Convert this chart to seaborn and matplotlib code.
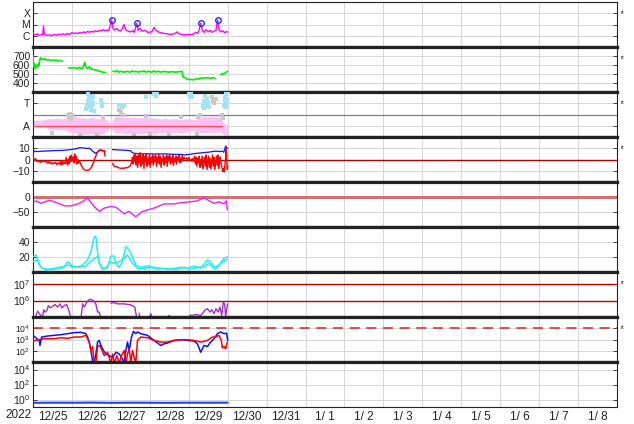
import numpy as np
import pandas as pd
import matplotlib
matplotlib.use("Agg")
import matplotlib.pyplot as plt
from matplotlib.ticker import NullLocator
import seaborn as sns

# ---------------- data (time in days since 12/25 00:00) ----------------
date_labels = ["12/25", "12/26", "12/27", "12/28", "12/29", "12/30", "12/31",
               "1/ 1", "1/ 2", "1/ 3", "1/ 4", "1/ 5", "1/ 6", "1/ 7", "1/ 8"]

# X-ray flux (units of 1e-6 W/m2)
xray_t = [0.00, 0.03, 0.08, 0.12, 0.16, 0.20, 0.25, 0.27, 0.29, 0.35, 0.42, 0.48, 0.55, 0.60,
          0.66, 0.72, 0.78, 0.83, 0.88, 0.93, 1.00, 1.05, 1.10, 1.15, 1.20, 1.25, 1.30, 1.35,
          1.40, 1.45, 1.50, 1.55, 1.60, 1.65, 1.70, 1.75, 1.80, 1.85, 1.90, 1.95, 2.02, 2.06,
          2.10, 2.15, 2.20, 2.25, 2.30, 2.34, 2.38, 2.45, 2.50, 2.55, 2.60, 2.67, 2.70, 2.75,
          2.80, 2.88, 2.95, 3.05, 3.11, 3.16, 3.22, 3.30, 3.38, 3.45, 3.52, 3.58, 3.65, 3.70,
          3.75, 3.82, 3.90, 3.97, 4.05, 4.12, 4.18, 4.22, 4.26, 4.31, 4.35, 4.40, 4.45, 4.50,
          4.55, 4.60, 4.65, 4.70, 4.74, 4.78, 4.82, 4.88, 4.92, 4.96, 5.00]
xray_v = [1.8, 1.3, 1.2, 1.5, 1.1, 1.2, 1.3, 7.0, 1.4, 1.1, 1.2, 1.0, 1.3, 1.1,
          1.4, 1.2, 1.5, 1.2, 1.6, 1.3, 1.9, 1.6, 1.8, 1.5, 2.0, 1.7, 2.2, 1.9,
          2.4, 2.0, 2.5, 2.1, 2.8, 2.3, 3.0, 2.6, 3.5, 2.8, 3.2, 3.0, 25.0, 4.0,
          3.2, 4.5, 3.0, 2.6, 5.0, 10.0, 3.5, 2.5, 2.2, 2.8, 2.0, 13.0, 3.0, 4.5,
          2.5, 3.0, 2.0, 2.2, 5.5, 3.0, 2.2, 1.8, 1.6, 1.5, 1.3, 1.4, 1.6, 2.2,
          1.5, 1.3, 1.2, 1.3, 1.2, 1.4, 2.0, 1.6, 2.6, 13.0, 3.0, 2.0, 3.5, 2.2,
          3.0, 2.0, 2.5, 3.0, 25.0, 3.5, 2.2, 2.8, 1.8, 2.3, 2.1]
flare_t = [2.02, 2.67, 4.31, 4.74]
flare_v = [25.0, 13.0, 13.0, 25.0]

# Solar wind speed (km/s)
speed_t = [0.00, 0.01, 0.03, 0.05, 0.08, 0.10, 0.13, 0.15, 0.17, 0.19, 0.22, 0.26, 0.30, 0.35,
           0.40, 0.45, 0.50, 0.55, 0.60, 0.65, 0.70, 0.75, 0.78, 0.92, 1.00, 1.10, 1.15, 1.20,
           1.25, 1.28, 1.33, 1.36, 1.40, 1.45, 1.50, 1.55, 1.60, 1.65, 1.72, 1.80, 1.87, 1.88,
           2.05, 2.10, 2.15, 2.20, 2.25, 2.30, 2.35, 2.40, 2.45, 2.50, 2.55, 2.60, 2.65, 2.70,
           2.75, 2.80, 2.85, 2.90, 2.95, 3.00, 3.05, 3.10, 3.15, 3.20, 3.25, 3.30, 3.35, 3.40,
           3.45, 3.50, 3.55, 3.60, 3.65, 3.83, 3.85, 3.90, 3.95, 4.00, 4.05, 4.10, 4.15, 4.20,
           4.25, 4.30, 4.35, 4.40, 4.45, 4.50, 4.55, 4.60, 4.65, 4.68, 4.70, 4.82, 4.86, 4.90,
           4.95, 5.00]
speed_v = [700, 580, 620, 560, 600, 570, 610, 590, 640, 680, 670, 660, 670, 655,
           660, 650, 655, 650, 655, 645, 650, 645, np.nan, 570, 565, 570, 560, 575,
           560, 565, 630, 575, 560, 580, 555, 550, 545, 540, 530, 520, 515, np.nan,
           530, 525, 540, 520, 530, 525, 520, 530, 525, 520, 535, 525, 530, 520,
           530, 525, 535, 520, 530, 525, 520, 535, 520, 530, 525, 520, 530, 525,
           525, 520, 525, 525, 520, 530, 470, 460, 445, 440, 440, 435, 440, 450,
           440, 455, 450, 460, 455, 460, 450, 460, 455, 450, np.nan, 490, 505, 500,
           515, 530]

# IMF sector (A = away, T = toward)
band_t = [0.0, 0.1, 0.2, 0.3, 0.4, 0.5, 0.6, 0.7, 0.8, 0.9, 1.0, 1.1, 1.2, 1.3, 1.4, 1.5, 1.6,
          1.7, 1.8, 1.9, 2.0, 2.1, 2.2, 2.3, 2.4, 2.5, 2.6, 2.7, 2.8, 2.9, 3.0, 3.1, 3.2, 3.3,
          3.4, 3.5, 3.6, 3.7, 3.8, 3.9, 4.0, 4.1, 4.2, 4.3, 4.4, 4.5, 4.6, 4.7, 4.8, 4.9, 5.0]
band_hi = [0.36, 0.38, 0.37, 0.39, 0.41, 0.40, 0.42, 0.41, 0.40, 0.44, 0.50, 0.45, 0.42, 0.43,
           0.41, 0.44, 0.42, 0.40, 0.43, 0.38, 0.30, 0.45, 0.46, 0.44, 0.45, 0.43, 0.44, 0.42,
           0.43, 0.44, 0.42, 0.43, 0.41, 0.40, 0.42, 0.39, 0.41, 0.40, 0.38, 0.40, 0.41, 0.39,
           0.40, 0.44, 0.46, 0.45, 0.47, 0.46, 0.45, 0.30, 0.28]
band_lo = [0.22, 0.24, 0.22, 0.23, 0.18, 0.16, 0.17, 0.15, 0.17, 0.12, 0.10, 0.08, 0.07, 0.06,
           0.08, 0.07, 0.09, 0.06, 0.08, 0.14, 0.20, 0.10, 0.08, 0.09, 0.07, 0.08, 0.06, 0.08,
           0.07, 0.09, 0.08, 0.06, 0.09, 0.08, 0.10, 0.07, 0.09, 0.11, 0.08, 0.10, 0.12, 0.14,
           0.12, 0.10, 0.09, 0.11, 0.08, 0.10, 0.12, 0.05, 0.04]
toward_t = [1.36, 1.38, 1.40, 1.42, 1.44, 1.45, 1.47, 1.49, 1.50, 1.52, 1.54, 1.56, 1.41, 1.46,
            1.53, 1.74, 1.76, 1.78, 2.22, 2.30, 2.33, 2.90, 3.12, 3.16, 3.19, 4.01, 4.03, 4.06,
            4.08, 4.36, 4.38, 4.40, 4.42, 4.44, 4.46, 4.48, 4.50, 4.52, 4.90, 4.92, 4.94, 4.96,
            4.97, 4.99, 5.00, 4.95]
toward_v = [0.62, 0.70, 0.80, 0.75, 0.66, 0.88, 0.72, 0.60, 0.84, 0.68, 0.92, 0.58, 0.95, 0.78,
            0.76, 0.82, 0.74, 0.70, 0.71, 0.68, 0.72, 0.90, 0.96, 0.92, 0.97, 0.95, 0.88, 0.98,
            0.90, 0.70, 0.64, 0.80, 0.92, 0.75, 0.68, 0.85, 0.78, 0.66, 0.70, 0.80, 0.90, 0.75,
            0.95, 0.85, 0.98, 0.66]
gray_t = [0.90, 0.93, 0.95, 0.98, 1.00, 1.40, 1.45, 1.50, 1.55, 1.47, 2.20, 2.25, 2.28, 2.32,
          3.12, 3.17, 3.22, 4.00, 4.05, 4.10, 4.25, 4.30, 4.60, 4.63, 4.66, 4.70, 1.20, 1.65,
          2.60, 3.00, 3.50, 4.20, 0.50, 1.80, 2.90, 3.80, 4.85, 4.88]
gray_v = [0.50, 0.45, 0.52, 0.40, 0.48, 0.97, 0.93, 0.95, 0.90, 0.99, 0.60, 0.55, 0.66, 0.50,
          0.99, 0.97, 0.98, 1.00, 0.98, 0.99, 0.45, 0.50, 0.88, 0.80, 0.75, 0.85, 0.05, 0.04,
          0.05, 0.06, 0.04, 0.06, 0.10, 0.45, 0.46, 0.44, 0.50, 0.42]
sector_t = [0.0, 4.85]
sector_v = [0.25, 0.25]

# IMF Bt and Bz (nT)
bt_t = [0.00, 0.02, 0.05, 0.10, 0.20, 0.30, 0.40, 0.50, 0.60, 0.70, 0.80, 0.90, 1.00, 1.10,
        1.20, 1.30, 1.40, 1.45, 1.50, 1.55, 1.60, 1.65, 1.70, 1.75, 1.80, 1.85, 1.86,
        2.04, 2.10, 2.20, 2.30, 2.40, 2.50, 2.55, 2.60, 2.70, 2.80, 2.90, 3.00, 3.10, 3.20,
        3.30, 3.40, 3.50, 3.60, 3.70, 3.80, 3.85, 3.90, 4.00, 4.10, 4.20, 4.30, 4.40, 4.50,
        4.60, 4.70, 4.80, 4.85, 4.90, 4.95, 4.97, 5.00]
bt_v = [3.5, 7.0, 7.5, 7.0, 7.3, 7.5, 7.6, 7.8, 8.0, 8.0, 8.2, 8.5, 9.0, 9.5,
        10.5, 10.2, 9.8, 10.0, 8.5, 7.0, 5.5, 6.5, 8.2, 8.5, 8.0, 7.5, np.nan,
        8.8, 8.7, 8.5, 8.3, 8.2, 7.8, 6.0, 5.5, 5.2, 5.0, 5.2, 5.0, 4.8, 5.0,
        4.9, 5.0, 4.8, 4.6, 4.5, 4.6, 4.3, 4.0, 4.5, 5.0, 5.5, 5.8, 6.2, 6.5,
        7.0, 7.5, 7.0, 7.5, 6.5, 12.0, 10.5, 10.0]
bz_t = [0.00, 0.02, 0.04, 0.06, 0.08, 0.10, 0.13, 0.16, 0.19, 0.22, 0.25, 0.28, 0.31, 0.34,
        0.37, 0.40, 0.43, 0.46, 0.49, 0.52, 0.55, 0.58, 0.61, 0.64, 0.67, 0.70, 0.72, 0.75,
        0.77, 0.80, 0.83, 0.85, 0.87, 0.89, 0.91, 0.93, 0.95, 0.97, 0.99, 1.01, 1.03, 1.05,
        1.07, 1.09, 1.11, 1.13, 1.15, 1.17, 1.20, 1.25, 1.30, 1.35, 1.40, 1.45, 1.50, 1.55,
        1.60, 1.65, 1.70, 1.75, 1.80, 1.83, 1.85, 1.86,
        2.04, 2.07, 2.10, 2.14, 2.18, 2.22, 2.26, 2.30, 2.34, 2.38, 2.42, 2.46, 2.50, 2.53,
        2.55, 2.57, 2.59, 2.61, 2.63, 2.65, 2.67, 2.69, 2.71, 2.73, 2.75, 2.77, 2.79, 2.81,
        2.83, 2.85, 2.87, 2.89, 2.91, 2.93, 2.95, 2.97, 2.99, 3.01, 3.03, 3.05, 3.07, 3.09,
        3.11, 3.13, 3.15, 3.17, 3.19, 3.21, 3.23, 3.25, 3.27, 3.29, 3.31, 3.33, 3.35, 3.37,
        3.39, 3.41, 3.43, 3.45, 3.47, 3.49, 3.51, 3.53, 3.55, 3.57, 3.59, 3.61, 3.63, 3.65,
        3.67, 3.69, 3.71, 3.73, 3.75, 3.77, 3.79, 3.81, 3.83, 3.85, 3.88, 3.91, 3.94, 3.97,
        4.00, 4.03, 4.06, 4.09, 4.12, 4.15, 4.17, 4.19, 4.21, 4.23, 4.25, 4.27, 4.29, 4.31,
        4.33, 4.35, 4.37, 4.39, 4.41, 4.43, 4.45, 4.47, 4.49, 4.51, 4.53, 4.55, 4.57, 4.59,
        4.61, 4.63, 4.65, 4.67, 4.69, 4.71, 4.73, 4.75, 4.77, 4.79, 4.81, 4.83, 4.85, 4.87,
        4.89, 4.91, 4.93, 4.95, 4.96, 4.97, 4.98, 4.99, 5.00]
bz_v = [2.5, 0.0, -1.0, 1.0, -1.5, -0.5, -2.0, -1.0, -2.5, -1.5, -2.0, -0.8, -2.2, -1.8,
        -3.0, -2.0, -3.5, -2.5, -4.0, -3.0, -3.5, -2.5, -4.5, -3.0, -4.0, -2.0, -5.0, -1.0,
        -4.5, -2.5, -4.0, 2.0, -3.0, -5.0, 0.5, -3.5, 3.0, -2.0, 4.0, -1.0, 2.0, -3.0,
        5.0, -1.0, 3.0, -4.0, 0.0, -3.0, -2.0, -6.0, -8.5, -9.5, -9.7, -9.0, -7.0, -3.0,
        2.0, 6.0, 8.0, 8.2, 7.5, 8.0, 3.0, np.nan,
        -3.5, -5.0, -6.5, -6.0, -7.0, -7.5, -8.0, -7.5, -8.0, -7.0, -7.5, -6.5, -5.5, -3.0,
        2.0, -4.0, 4.0, -2.0, 5.5, -5.0, 3.0, -7.0, 4.0, -3.0, 6.0, -6.0, 2.0, -4.0,
        5.0, -8.0, 3.0, -2.0, 5.0, -6.0, 1.0, -4.0, 4.0, -7.0, 2.0, -3.0, 5.0, -5.0,
        3.0, -2.0, 4.0, -6.0, 2.0, -3.0, 5.0, -4.0, 3.0, -7.0, 1.0, -2.0, 4.0, -5.0,
        2.0, -3.0, 4.0, -6.0, 3.0, -1.0, 4.0, -4.0, 2.0, -3.0, 4.0, -5.0, 1.0, -2.0,
        3.0, -4.0, 2.0, -1.0, 4.0, -3.0, 1.0, -2.0, 4.0, -1.0, 2.0, 0.5, 1.5, -1.0,
        2.0, 0.0, -1.5, 1.0, -2.0, 3.0, -4.0, 2.0, -6.0, 1.0, -3.0, 3.0, -7.0, 0.0,
        -5.0, 3.0, -8.0, -2.0, 2.0, -6.0, 4.0, -9.0, -3.0, 3.0, -7.0, 1.0, -8.5, -2.0,
        4.0, -6.0, 2.0, -9.0, -3.0, 3.0, -5.0, 4.0, -8.0, -1.0, 2.0, -4.0, -6.0, -10.5,
        -8.0, -11.0, -5.0, 2.0, 10.0, 6.0, -2.0, -9.0, -6.0]

# Dst (nT)
dst_t = [0.0, 0.077, 0.205, 0.419, 0.547, 0.803, 0.974, 1.145, 1.274, 1.402, 1.444, 1.573,
         1.701, 1.829, 2.0, 2.128, 2.342, 2.47, 2.641, 2.812, 2.94, 3.111, 3.368, 3.624,
         3.795, 4.051, 4.222, 4.393, 4.521, 4.65, 4.778, 4.906, 4.966, 4.991]
dst_v = [-19, -13, -21, -11, -16, -29, -30, -23, -16, -2, -11, -32,
         -48, -37, -32, -34, -56, -48, -66, -48, -43, -37, -23, -23,
         -19, -16, -13, -2, -13, -21, -16, -23, -13, -43]

# Two cyan index traces
ca_t = [0.0, 0.077, 0.162, 0.248, 0.376, 0.547, 0.675, 0.803, 0.889, 1.017, 1.145, 1.274,
        1.402, 1.487, 1.573, 1.615, 1.658, 1.701, 1.786, 1.915, 2.0, 2.085, 2.128, 2.214,
        2.299, 2.385, 2.47, 2.556, 2.641, 2.769, 2.94, 3.111, 3.282, 3.453, 3.624, 3.795,
        3.966, 4.137, 4.308, 4.479, 4.564, 4.65, 4.778, 4.906, 4.991]
ca_v = [20.4, 22.7, 9.3, 4.9, 3.6, 4.9, 6.2, 7.1, 13.8, 8.0, 6.2, 9.3,
        16.0, 27.1, 47.1, 47.1, 27.1, 11.6, 3.6, 6.2, 21.3, 21.3, 11.6, 6.2,
        13.8, 33.8, 29.3, 20.4, 9.3, 6.2, 8.0, 6.2, 4.9, 3.6, 4.9, 6.2,
        4.9, 8.0, 4.9, 16.0, 13.8, 6.2, 9.3, 18.2, 20.4]
cb_t = [0.0, 0.12, 0.205, 0.333, 0.547, 0.718, 0.889, 1.06, 1.231, 1.359, 1.487, 1.573,
        1.658, 1.744, 1.872, 2.0, 2.085, 2.214, 2.342, 2.427, 2.556, 2.684, 2.855, 3.026,
        3.197, 3.368, 3.538, 3.709, 3.88, 4.051, 4.222, 4.393, 4.521, 4.607, 4.692, 4.821,
        4.949, 4.991]
cb_v = [13.8, 16.0, 6.2, 2.7, 3.6, 4.9, 9.3, 6.2, 7.1, 8.0, 13.8, 18.2,
        20.4, 6.2, 4.9, 13.8, 11.6, 13.8, 18.2, 22.7, 11.6, 4.9, 4.9, 6.2,
        3.6, 4.9, 3.6, 3.6, 6.2, 3.6, 6.2, 7.1, 11.6, 6.2, 3.6, 11.6,
        16.0, 16.9]

# Electron flux (units of 1e5)
elec_t = [0.06, 0.077, 0.12, 0.162, 0.205, 0.248, 0.274, 0.308, 0.359, 0.393, 0.444, 0.504,
          0.564, 0.632, 0.692, 0.744, 0.803, 0.863, 0.906, 0.957, 0.991, 1.10,
          1.231, 1.274, 1.316, 1.385, 1.427, 1.487, 1.547, 1.615, 1.658, 1.701, 1.744, 1.90,
          2.0, 2.085, 2.171, 2.342, 2.513, 2.615, 2.667, 2.70,
          2.726, 2.75, 2.85, 2.98, 3.026, 3.06, 3.30, 3.49, 3.496, 3.51, 3.80,
          4.02, 4.034, 4.10, 4.137, 4.222, 4.30, 4.35, 4.41, 4.479, 4.547, 4.59, 4.65, 4.701,
          4.752, 4.803, 4.846, 4.889, 4.923, 4.949, 4.991, 5.0]
elec_v = [0.8, 1.26, 2.3, 1.6, 1.26, 1.0, 2.75, 2.0, 2.5, 5.0, 3.6, 4.4,
          5.75, 4.0, 6.3, 3.6, 5.0, 5.75, 3.2, 1.26, 0.8, np.nan,
          0.8, 6.3, 4.0, 7.9, 11.0, 12.0, 10.0, 6.3, 2.0, 2.0, 0.8, np.nan,
          6.9, 7.6, 6.3, 6.3, 5.5, 4.0, 0.8, np.nan,
          1.7, 0.8, np.nan, 0.8, 1.6, 0.8, np.nan, 0.9, 1.26, 0.9, np.nan,
          0.8, 1.3, 1.2, 1.38, 1.38, 1.2, 1.6, 2.5, 3.2, 2.0, 2.75, 1.6, 3.2,
          2.0, 4.0, 1.26, 7.9, 6.3, 1.1, 5.0, 6.3]

# Proton fluxes
pb_t = [0.0, 0.051, 0.103, 0.162, 0.179, 0.222, 0.376, 0.547, 0.718, 0.889, 1.06, 1.231,
        1.359, 1.402, 1.444, 1.487, 1.53, 1.573, 1.615, 1.658, 1.701, 1.744, 1.812, 1.872,
        1.957, 2.043, 2.128, 2.214, 2.299, 2.342, 2.385, 2.427, 2.47, 2.53, 2.581, 2.641,
        2.684, 2.769, 2.94, 3.111, 3.282, 3.368, 3.453, 3.624, 3.795, 3.966, 4.137, 4.222,
        4.308, 4.393, 4.479, 4.564, 4.65, 4.735, 4.821, 4.906, 4.974, 5.0]
pb_v = [2350, 1660, 1170, 830, 295, 1660, 2040, 2350, 2690, 3300, 4070, 4370,
        3300, 1660, 590, 105, 13, 8, 52, 590, 830, 295, 105, 52,
        37, 23, 74, 52, 19, 8, 105, 590, 105, 1660, 5370, 3300,
        4680, 3300, 2350, 830, 295, 415, 480, 830, 955, 830, 725, 415,
        74, 295, 240, 590, 1170, 3300, 4680, 3300, 3700, 830]
pr_t = [0.0, 0.12, 0.291, 0.547, 0.718, 0.889, 1.06, 1.231, 1.359, 1.402, 1.444, 1.487,
        1.53, 1.573, 1.615, 1.658, 1.701, 1.744, 1.829, 1.915, 2.0, 2.043, 2.085, 2.154,
        2.214, 2.274, 2.342, 2.385, 2.427, 2.47, 2.513, 2.556, 2.598, 2.641, 2.684, 2.769,
        2.94, 3.111, 3.282, 3.453, 3.624, 3.795, 3.966, 4.137, 4.308, 4.479, 4.607, 4.692,
        4.778, 4.838, 4.863, 4.906, 4.949, 4.991]
pr_v = [725, 955, 1170, 1170, 1445, 1260, 1660, 1660, 2350, 1170, 590, 105,
        240, 8, 8, 240, 295, 182, 37, 74, 8, 52, 8, 37,
        8, 37, 105, 8, 52, 148, 8, 105, 26, 8, 830, 1660,
        1445, 830, 590, 590, 830, 955, 955, 830, 590, 830, 1660, 1660,
        2350, 830, 182, 240, 148, 590]

# Bottom panel flux
low_t = [0.0, 0.5, 1.0, 1.5, 2.0, 2.5, 3.0, 3.5, 4.0, 4.5, 5.0]
low_v = [0.36, 0.38, 0.37, 0.39, 0.36, 0.38, 0.37, 0.36, 0.38, 0.37, 0.38]

# ---------------- figure ----------------
sns.set_theme(style="white")
plt.rcParams["font.family"] = ["Liberation Sans", "DejaVu Sans"]

W, H = 634, 424
L, R = 33, 617
fig = plt.figure(figsize=(W / 100, H / 100), dpi=100)
axs = []
for i in range(9):
    top = 2 + 45 * i
    axs.append(fig.add_axes([L / W, 1 - (top + 45) / H, (R - L) / W, 45 / H]))

GRID = "#d6d6d6"


def seg_line(ax, t, v, color, lw=1.0, scale=1.0, z=3):
    df = pd.DataFrame({"t": t, "v": np.asarray(v, dtype=float) * scale})
    df["seg"] = df["v"].isna().cumsum()
    df = df.dropna()
    sns.lineplot(data=df, x="t", y="v", units="seg", estimator=None, color=color,
                 lw=lw, ax=ax, legend=False, sort=False, zorder=z)


# Panel 0: X-ray
ax = axs[0]
ax.set_yscale("log")
seg_line(ax, xray_t, xray_v, "#ff00ff", 1.0, 1e-6)
ax.plot(flare_t, np.array(flare_v) * 1e-6, "o", mfc="none", mec="#2828ff", ms=4, mew=1.0, zorder=4)
ax.set_ylim(1e-7, 1e-3)
ax.set_yticks([1e-6, 1e-5, 1e-4])
ax.set_yticklabels(["C", "M", "X"])

# Panel 1: speed
ax = axs[1]
seg_line(ax, speed_t, speed_v, "#00ee00", 1.2)
ax.set_ylim(300, 800)
ax.set_yticks([400, 500, 600, 700])
ax.set_yticklabels(["400", "500", "600", "700"])

# Panel 2: sector
ax = axs[2]
ax.fill_between(band_t, band_lo, band_hi, color="#fbc0f5", lw=0, zorder=2)
sns.scatterplot(x=gray_t, y=gray_v, color="#c8c8c8", marker="s", s=5, linewidth=0, ax=ax, zorder=2)
sns.scatterplot(x=toward_t, y=toward_v, color="#a2e4f7", marker="s", s=7, linewidth=0, ax=ax, zorder=3)
ax.axhline(0.5, color="#808080", lw=0.9, zorder=1)
seg_line(ax, sector_t, sector_v, "#ff5050", 1.0, z=4)
ax.set_ylim(0, 1)
ax.set_yticks([0.25, 0.75])
ax.set_yticklabels(["A", "T"])

# Panel 3: IMF
ax = axs[3]
ax.axhline(0, color="#b00000", lw=1.0, zorder=2)
seg_line(ax, bt_t, bt_v, "#1010ff", 0.9)
seg_line(ax, bz_t, bz_v, "#ff0000", 1.0, z=4)
ax.set_ylim(-20, 20)
ax.set_yticks([-10, 0, 10])
ax.set_yticklabels(["\u221210", "0", "10"])

# Panel 4: Dst
ax = axs[4]
ax.axhline(0, color="#d07070", lw=2.2, zorder=2)
seg_line(ax, dst_t, dst_v, "#ee22ee", 1.0)
ax.set_ylim(-100, 50)
ax.set_yticks([-50, 0])
ax.set_yticklabels(["\u221250", "0"])

# Panel 5: cyan indices
ax = axs[5]
seg_line(ax, cb_t, cb_v, "#22f0f0", 1.1)
seg_line(ax, ca_t, ca_v, "#22f0f0", 1.1)
ax.set_ylim(0, 60)
ax.set_yticks([20, 40])
ax.set_yticklabels(["20", "40"])

# Panel 6: electrons
ax = axs[6]
ax.set_yscale("log")
ax.axhline(1e6, color="#c00000", lw=1.0, zorder=2)
ax.axhline(1e7, color="#c00000", lw=1.0, zorder=2)
seg_line(ax, elec_t, elec_v, "#a030c8", 1.0, 1e5)
ax.set_ylim(1e5, 5.5e7)
ax.set_yticks([1e6, 1e7])
ax.set_yticklabels([r"$\mathdefault{10^{6}}$", r"$\mathdefault{10^{7}}$"])

# Panel 7: protons
ax = axs[7]
ax.set_yscale("log")
ax.axhline(1e4, color="#e03030", lw=1.2, dashes=(6, 4), zorder=2)
seg_line(ax, pb_t, pb_v, "#1010ff", 1.1)
seg_line(ax, pr_t, pr_v, "#ff0000", 1.1, z=4)
ax.set_ylim(1e1, 1e5)
ax.set_yticks([1e2, 1e3, 1e4])
ax.set_yticklabels([r"$\mathdefault{10^{2}}$", r"$\mathdefault{10^{3}}$", r"$\mathdefault{10^{4}}$"])

# Panel 8
ax = axs[8]
ax.set_yscale("log")
seg_line(ax, low_t, low_v, "#2040ff", 1.5)
ax.set_ylim(1e-1, 1e5)
ax.set_yticks([1e0, 1e2, 1e4])
ax.set_yticklabels([r"$\mathdefault{10^{0}}$", r"$\mathdefault{10^{2}}$", r"$\mathdefault{10^{4}}$"])

# ---------------- common styling ----------------
for i, ax in enumerate(axs):
    ax.set_xlim(0, 15)
    ax.set_xlabel("")
    ax.set_ylabel("")
    ax.set_xticks(range(16))
    ax.yaxis.set_minor_locator(NullLocator())
    ax.set_axisbelow(True)
    ax.grid(axis="x", color=GRID, lw=0.7)
    if i != 6:
        ax.grid(axis="y", which="major", color=GRID, lw=0.7)
    ax.tick_params(axis="y", which="major", direction="in", length=3, width=0.6,
                   left=True, right=True, labelsize=(6.2 if i == 7 else 7.5), pad=2,
                   colors="#222222")
    ax.tick_params(axis="x", which="major", length=0, labelbottom=False)
    for side in ("left", "right"):
        ax.spines[side].set_linewidth(0.8)
        ax.spines[side].set_color("#222222")
    ax.spines["top"].set_linewidth(0.8 if i == 0 else 2.3)
    ax.spines["bottom"].set_linewidth(0.8 if i == 8 else 2.3)
    ax.spines["top"].set_color("#222222")
    ax.spines["bottom"].set_color("#222222")
    ax.set_facecolor("white")

bax = axs[8]
bax.set_xticks([d + 0.5 for d in range(15)], minor=True)
bax.set_xticklabels(date_labels, minor=True)
bax.tick_params(axis="x", which="minor", length=0, labelsize=8.5, pad=3, colors="#222222")
bax.text((19 - L) / (R - L), -0.175, "2022", transform=bax.transAxes, ha="center",
         va="center", fontsize=8.5, color="#222222")

for i in (0, 1, 2, 3, 6, 7):
    top = 2 + 45 * i
    fig.text((R + 4) / W, 1 - (top + 10.5) / H, "rt", fontsize=4.5, ha="left",
             va="center", color="#333333")

fig.savefig("out.png", dpi=100)
